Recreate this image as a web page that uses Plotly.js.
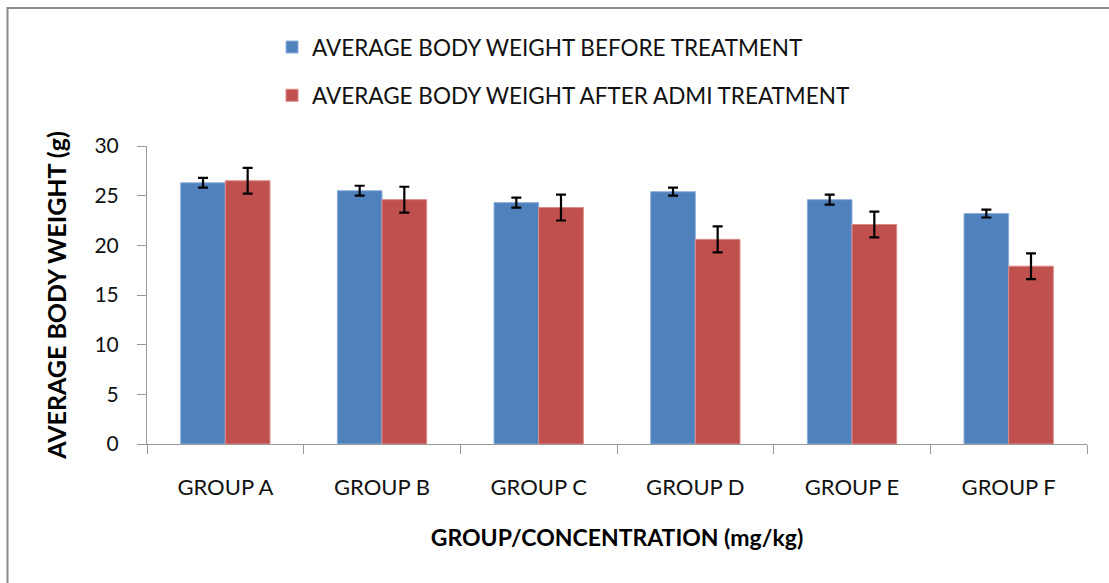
<!DOCTYPE html>
<html>
<head>
<meta charset="utf-8">
<script src="https://cdn.plot.ly/plotly-3.0.1.min.js"></script>
<style>
html,body{margin:0;padding:0;background:#fff;}
#chart{width:1109px;height:583px;}
</style>
</head>
<body>
<div id="chart"></div>
<script>
const groups = ["GROUP A", "GROUP B", "GROUP C", "GROUP D", "GROUP E", "GROUP F"];
const beforeValues = [26.3, 25.5, 24.3, 25.4, 24.6, 23.2];
const beforeErrors = [0.5, 0.5, 0.5, 0.4, 0.5, 0.4];
const afterValues = [26.5, 24.6, 23.8, 20.6, 22.1, 17.9];
const afterErrors = [1.3, 1.3, 1.3, 1.3, 1.3, 1.3];
const seriesNames = ["AVERAGE BODY WEIGHT BEFORE TREATMENT", "AVERAGE BODY WEIGHT AFTER ADMI TREATMENT"];

const FONT = "Lato, 'Open Sans', sans-serif";
const errStyle = {type: "data", visible: true, color: "#000", thickness: 2.2, width: 5};

const traces = [
  {type: "bar", name: seriesNames[0], x: groups, y: beforeValues, legendgroup: "a",
   marker: {color: "#4F81BD", line: {color: "#8fb0dc", width: 1}},
   error_y: Object.assign({array: beforeErrors}, errStyle)},
  {type: "bar", name: seriesNames[1], x: groups, y: afterValues, legendgroup: "b",
   marker: {color: "#C0504D", line: {color: "#dc8a88", width: 1}},
   error_y: Object.assign({array: afterErrors}, errStyle)}
];

const layout = {
  width: 1109, height: 583,
  margin: {l: 147, r: 22, t: 146, b: 139},
  paper_bgcolor: "#fff", plot_bgcolor: "#fff",
  barmode: "group", bargap: 0.43, bargroupgap: 0,
  font: {family: FONT, color: "#000"},
  showlegend: true,
  legend: {x: 0.133, xanchor: "left", y: 1.403, yanchor: "top", orientation: "v",
           font: {size: 22.5, family: FONT, color: "#111"}, tracegroupgap: 16,
           itemwidth: 30, bgcolor: "rgba(0,0,0,0)"},
  xaxis: {type: "category", showline: true, linecolor: "#999", linewidth: 1,
          ticks: "outside", tickson: "boundaries", ticklen: 9, tickcolor: "#999",
          ticklabelstandoff: 24,
          tickfont: {size: 22, family: FONT, color: "#111"}, showgrid: false,
          title: {text: "<b>GROUP/CONCENTRATION (mg/kg)</b>", font: {size: 23, family: FONT, color: "#000"}, standoff: 30}},
  yaxis: {range: [0, 30], dtick: 5, showline: true, linecolor: "#999", linewidth: 1,
          ticks: "outside", ticklen: 9, tickcolor: "#999", showgrid: false, zeroline: false,
          ticklabelstandoff: 14,
          tickfont: {size: 21, family: FONT, color: "#111"},
          title: {text: "<b>AVERAGE BODY WEIGHT (g)</b>", font: {size: 25, family: FONT, color: "#000"}, standoff: 20}},
  shapes: [{type: "rect", xref: "paper", yref: "paper",
            x0: -0.1484, x1: 1.2, y0: -0.6, y1: 1.463,
            line: {color: "#8a8a8a", width: 2}, fillcolor: "rgba(0,0,0,0)"}]
};

Plotly.newPlot("chart", traces, layout, {displayModeBar: false, staticPlot: true});
</script>
</body>
</html>
